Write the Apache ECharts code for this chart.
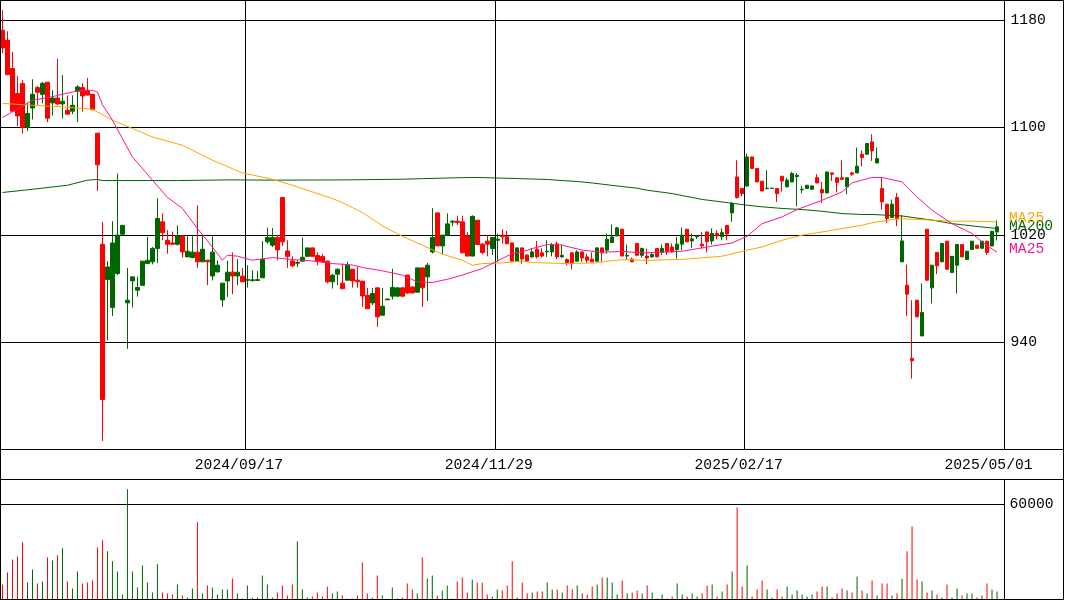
<!DOCTYPE html>
<html>
<head>
<meta charset="utf-8">
<script src="https://cdn.jsdelivr.net/npm/echarts@6.0.0/dist/echarts.min.js"></script>
<style>
  html, body { margin: 0; padding: 0; background: #ffffff; }
  #chart { width: 1065px; height: 600px; }
</style>
</head>
<body>
<div id="chart"></div>
<script>
// Daily candles, 2024/07/05 .. 2025/05/01 (Tokyo sessions)
const opens = [
  1172.5,1165.1,1144,1125.4,1132.8,1100,1114.6,1129.8,1124.8,1133.8,
  1118.4,1122,1117.6,1112.9,1112.2,1127.1,1129.8,1127.8,1124.8,1095.8,
  1013,986.7,965.9,991.2,1020.5,969.3,985.7,978.8,982.4,998.7,
  999.9,1009.8,1029.7,1016,1014,1013,1019.2,1003.6,1003.1,1007.1,
  999.9,1001.1,989.4,992.4,971.5,985.7,992.2,989.4,989.2,986.2,
  986,986,988,1014.8,1012.3,1018,1047.9,1008,1000.6,998.9,
  1000.4,1004,1010.3,1004.6,1003.8,1000.4,985,990.7,984,986.2,
  994.4,986.2,985.5,975,969.3,980.5,960.1,971.6,974.3,974.3,
  980.5,990,981.2,977.3,995.4,988.7,1007.3,1036.4,1011.8,1019.8,
  1029.5,1030.2,1029.7,1019.2,1004.2,1030.9,1013.1,1015.3,1009.8,1016,
  1019.8,1018.6,1014,1000.4,1010.3,1005,1003.6,1009.3,1006.6,1007.3,
  1007.3,1013.3,1003.6,1001.6,1006.6,1000.4,1007.3,1003.6,1001.9,1000.4,
  1010.3,1008.6,1014.3,1019.2,1024.2,1004.2,1001.9,1013.6,1004.8,1004.2,
  1003.6,1009.8,1006.9,1013.6,1011,1009.1,1013.1,1024.2,1015.5,1018.6,
  1013.1,1022.2,1015.5,1021,1018.6,1027,1036.4,1063.2,1054.6,1056.5,
  1078.1,1069.5,1060,1054.5,1054.6,1054.6,1063.7,1055.8,1059.5,1063.5,
  1053.6,1054.6,1054,1062.6,1053.8,1051.3,1066.2,1062.6,1062.6,1055.8,
  1066.2,1066.2,1080.1,1080.1,1089.3,1073.6,1054.6,1042.9,1032.9,1047.9,
  999.9,982.5,927.9,971.3,944.7,1024.2,980.5,1006.9,999.9,1015.3,
  992,997.4,1012.8,1001.7,1009.1,1012.3,1010,1015.3,1011.8,1022.2
];
const highs = [
  1187.5,1171.8,1156.4,1138.3,1135.3,1118.4,1136,1131,1134,1134,
  1127.8,1151.4,1139,1124,1124,1131.6,1133,1137,1125,1096,
  1029.7,1000.4,1030.2,1065.7,1027.5,995.4,988.7,988.9,1000.4,1018.5,
  1011,1047.3,1036,1023.5,1022.5,1027,1019.5,1019,1019,1042.1,
  1019,1001.5,1019,1001,984,1000.6,1006.9,1001.9,995.4,997.4,
  993.6,993,1015.3,1025.4,1025,1020,1048,1016,1004,1001,
  1018,1010.3,1010.5,1007,1006,1000.6,991,995,998.6,1000,
  994.6,996.6,985.7,980.5,980.5,980.7,980.5,972.4,994.8,980.7,
  981,990.2,981.4,995.5,995.6,999.1,1039.9,1036.6,1020,1036,
  1031,1034.3,1034.3,1022,1034.5,1031,1014,1020,1018.2,1021,
  1024.2,1022.9,1014.2,1010.5,1010.5,1005.2,1010.3,1015.5,1010,1016,
  1014,1015,1012.8,1002.4,1006.8,1008.5,1007.5,1006,1007,1010.5,
  1010.5,1021,1027.7,1026,1024.4,1012.8,1003,1013.8,1010.6,1009.8,
  1007,1010,1012.8,1013.8,1013.6,1018.5,1025.5,1024.4,1021,1020,
  1022.2,1022.4,1024.8,1023.4,1024.8,1027.2,1044.6,1075.6,1054.8,1080.7,
  1078.3,1069.7,1060.2,1068.2,1055,1054.8,1063.9,1062.6,1067,1066,
  1056.3,1057.2,1056.7,1065.2,1059.5,1067,1066.4,1062.8,1075.6,1062.8,
  1067,1085.1,1083,1088.3,1095,1085.1,1062.8,1043.1,1046.3,1051.3,
  1034.7,997.8,971.3,971.5,983.8,1024.4,997.6,1007.1,1013.8,1015.5,
  1004.2,1013,1013,1008,1015.5,1012.5,1015.5,1015.5,1022.9,1030.9
];
const lows = [
  1155.6,1139,1112,1101,1095.5,1097.4,1106,1117,1118,1104,
  1109,1117,1106.7,1110,1110,1104,1112,1124,1113,1052.8,
  866.4,941.5,959.6,990,1019.5,935,965.9,974,982,998,
  998,998.9,1016,1006,1013,1012,1003.1,1003.6,1002.5,995.4,
  999.9,982.5,986,992,966.3,973.8,975.8,982.5,985,980.7,
  985,986,988,1013.4,1011,1001,1011.6,995.4,996,996,
  1000,1003.5,1004,997.4,999,983.8,980,982.5,979.8,986,
  980.7,980.7,966.3,965,967.6,951.4,960,971.4,971.8,974,
  974,976,976.5,977,966.3,970.7,1006.1,1011.8,1005.6,1019.8,
  1026.6,1027.4,1006.6,1004,1004,1012.8,1005.5,1004,1005,1000,
  1013.4,1013,1000.4,1000.2,998.6,1000.2,1003,1002.4,1003,1003.6,
  1004,1002,1003,997.4,994.2,1000,1000,999,999.7,1000,
  1000,1006,1014,1019,1004.2,1001.6,999.7,1004,1003,998.2,
  1003,1003.4,1005,1005,1007,1002.4,1008.6,1014.6,1010.3,1017,
  1009.8,1006.9,1012.8,1016.7,1016,1016,1029.7,1047,1048.7,1055.8,
  1069.3,1059.3,1052.6,1054,1054.4,1044.5,1052.2,1055.6,1059.3,1041.4,
  1051,1054.4,1053.8,1058.5,1043.8,1051,1060.2,1051.6,1060.8,1050.3,
  1064,1066,1071,1080,1075.1,1073.4,1038.9,1028.9,1032.7,1026.5,
  999.7,959.6,912.9,958.7,944.5,986,968.9,990.7,999.7,994.2,
  991.8,976.3,1003.4,1001.5,1008.9,1009.8,1009.8,1004.9,1011.6,1016
];
const closes = [
  1159.4,1139.5,1112.2,1108.7,1100,1110.5,1124.8,1126.3,1133,1107,
  1122,1117.6,1119.6,1110,1116.6,1130.3,1123.6,1124.3,1113.4,1072.2,
  897.3,996.1,1014,1019.8,1027,971.3,988.7,980.8,1000.4,1001,
  1009.8,1032.2,1021.5,1013,1013,1019.3,1007.3,1007.8,1007.1,999.9,
  1009.3,999.9,1007.1,997.4,984,992.2,989.4,992.2,985,986.6,
  986.5,986.6,1001.6,1018,1018,1008.8,1014.8,1004,996.9,999.4,
  1003.3,1010.3,1004,1000.4,1000.2,985,989.9,994.4,979.8,997.4,
  985.7,985,974.5,965,976.3,958.9,966.8,972.2,980.8,980.5,
  974.3,976.7,976.7,995.4,980.5,997.4,1018,1011.8,1019.8,1028.2,
  1030.2,1029.2,1006.6,1004.2,1033.8,1012.8,1006.9,1013.1,1018,1016.8,
  1018.6,1013.4,1000.4,1010.3,1002,1000.4,1007.3,1003.6,1004.2,1007.8,
  1012.8,1003.6,1004.8,999.4,999.2,1007.3,1002.8,1001.1,999.9,1010.3,
  1006.6,1016.8,1018.5,1025.2,1004.2,1004.8,999.9,1004.8,1009.8,1002.8,
  1005.4,1003.6,1009.8,1007.3,1007.3,1013.1,1019.8,1014.8,1017,1019.2,
  1011.8,1014.8,1021,1019.2,1021.7,1020.7,1043.4,1047.9,1050.8,1078.1,
  1069.5,1059.5,1052.8,1054.8,1054.8,1050.8,1060.2,1060.8,1065.7,1064.5,
  1054,1057,1056.5,1058.7,1051.3,1066.9,1065.2,1059,1061.4,1062.6,
  1065.2,1071.2,1077.6,1088.1,1082.6,1076.9,1044.6,1032.2,1042.9,1032.2,
  1015.5,975.8,926.1,958.9,962.1,986.2,997.4,996.9,1013.6,994.4,
  1004,1012.8,1003.6,1007.8,1015.3,1010,1015.3,1006.9,1022.7,1026
];
const volumes = [
  9500,17100,25300,27200,36100,10800,19000,10100,11400,26600,
  24700,27900,32300,11400,7000,17700,10100,10800,12000,32900,
  37400,30400,24100,17700,3200,69700,17700,7600,21500,10800,
  4400,22200,4400,3800,3200,9500,2500,1300,7000,48800,
  3800,8900,7600,3200,6300,6300,13300,3800,600,8900,
  1300,1300,15200,9500,1300,4400,8900,2500,9500,36700,
  6300,1300,1900,4400,1900,8200,3800,5100,2500,600,
  600,2500,23400,3800,1300,15200,2500,300,7600,600,
  1300,10100,6300,3800,26600,13300,15200,2500,5700,8900,
  600,11400,13900,4400,12700,10800,10800,3200,1900,6300,
  5700,8900,24100,1300,10800,3800,4400,5100,5100,10800,
  6300,6300,4400,8900,6300,8900,3800,3200,8200,9500,
  13900,13900,10800,3200,12000,3800,4400,5700,3800,8900,
  4400,600,3200,600,1900,10100,3200,1900,3800,1900,
  3800,8900,9500,1900,5100,9500,17700,58300,8200,21500,
  1900,6300,12000,6300,1300,6300,1900,8200,3200,5700,
  3200,1900,3200,5100,8200,8200,1300,3800,7000,5700,
  4400,14600,5700,3800,12000,2500,10100,10100,2500,3800,
  13300,30400,46300,12700,11400,4400,5700,3200,1300,9500,
  1300,7000,2500,3800,3800,1300,2500,10100,6300,5100
];

// Moving averages as [session index, value]
const ma25Points = [
  [0,1107.5],[6,1120.4],[10,1123],[12,1124.8],[15,1127.3],[18,1127.8],[19,1126.5],[20,1117],
  [22,1105.5],[26,1078.1],[30,1060.8],[33,1048],[36,1039.7],[39,1024.7],[42,1011],[44,1001.1],
  [45,1004.9],[47,1004.1],[50,1001.1],[54,1003.1],[58,1001.6],[62,1000.6],[66,998.6],[70,997.6],
  [72,995.7],[76,993.2],[80,990],[83,985],[86,984.5],[89,986.9],[92,990],[96,994.9],
  [100,1002.4],[102,1006.1],[104,1007.3],[106,1009.8],[109,1012.8],[112,1012.3],[116,1008.6],[120,1007.1],
  [124,1007.6],[128,1006.6],[132,1007.1],[136,1007.8],[142,1011.6],[146,1014],[149,1019],[152,1028.4],
  [156,1033.4],[159,1038.9],[164,1045.8],[168,1052],[170,1058.8],[172,1060.8],[174,1062.8],[176,1062.8],
  [180,1059.5],[183,1048.3],[186,1038.4],[190,1028.4],[194,1021],[196,1014.8],[199,1007]
];
const ma75Points = [
  [0,1118],[6,1116.6],[12,1115.4],[18,1113.7],[19,1111.7],[22,1105.5],[26,1099.3],[30,1093],
  [36,1086.8],[38,1083.1],[42,1075.7],[48,1066.2],[54,1061.5],[58,1057],[62,1052],[66,1047.1],
  [68,1044.1],[70,1040.4],[72,1036.7],[76,1026.7],[80,1019],[84,1012.3],[88,1005.6],[92,1001.1],
  [94,997.4],[96,998.6],[100,999.1],[104,1000.4],[106,999.4],[113,998.6],[119,999.1],[121,1000.4],
  [123,1001.1],[125,1001.6],[129,1000.9],[134,1001.6],[136,1001.7],[144,1004.1],[149,1008.6],[152,1011],
  [156,1016],[160,1019.8],[164,1022.2],[168,1024.7],[172,1027.2],[174,1029],[178,1031.5],[180,1032],
  [186,1031],[190,1030.2],[194,1030.2],[199,1029.7]
];
const ma200Points = [
  [0,1051.6],[6,1054],[13,1057],[17,1060.8],[19,1061.3],[20,1060.5],[35,1060.5],[45,1061],
  [55,1060.8],[69,1061],[80,1061.5],[90,1062.5],[95,1062.8],[103,1062],[109,1061.3],[112,1060.5],
  [115,1059.8],[118,1058.7],[120,1057.8],[124,1056],[127,1054.8],[129,1053.3],[132,1051.8],[134,1050.8],
  [136,1049.3],[138,1047.9],[140,1046.4],[143,1045],[149,1042.1],[152,1040.9],[156,1039.7],[160,1038.9],
  [164,1037.6],[168,1035.9],[172,1035.2],[174,1035.2],[180,1034.1],[186,1031],[190,1028.4],[194,1026.7],
  [199,1024.7]
];

const dateTicks = ['2024/09/17', '2024/11/29', '2025/02/17', '2025/05/01'];
const dateGridLines = ['2024/09/17', '2024/11/29', '2025/02/17'];
const priceTicks = [940, 1020, 1100, 1180];
const volumeTicks = [60000];

// Exchange closures in the period
const marketHolidays = [
  '2024-07-15','2024-08-12','2024-09-16','2024-09-23','2024-10-14','2024-11-04',
  '2024-12-31','2025-01-01','2025-01-02','2025-01-03','2025-01-13','2025-02-11',
  '2025-02-24','2025-03-20','2025-04-29'
];

// Session dates, plus one open slot to the right of the last candle
function buildSessions(count) {
  const out = [];
  const d = new Date(Date.UTC(2024, 6, 5));
  while (out.length < count) {
    const wd = d.getUTCDay();
    const iso = d.toISOString().slice(0, 10);
    if (wd !== 0 && wd !== 6 && marketHolidays.indexOf(iso) < 0) {
      out.push(iso.replace(/-/g, '/'));
    }
    d.setUTCDate(d.getUTCDate() + 1);
  }
  return out;
}
const sessions = buildSessions(closes.length);
const categories = sessions.concat(['']);

const UP = '#006600';
const DOWN = '#ff0000';
const FONT = "'Liberation Mono', 'DejaVu Sans Mono', monospace";
const FSIZE = 14.7;

const candleData = opens.map((o, i) => [o, closes[i], lows[i], highs[i]]);
const volumeData = volumes.map((v, i) => ({
  value: v,
  itemStyle: { color: closes[i] >= opens[i] ? UP : DOWN }
}));

function maSeries(name, points, color, labelOffset) {
  return {
    name: name,
    type: 'line',
    xAxisIndex: 0,
    yAxisIndex: 0,
    data: points,
    symbol: 'none',
    smooth: false,
    lineStyle: { color: color, width: 1 },
    itemStyle: { color: color },
    silent: true,
    z: 3,
    endLabel: {
      show: true,
      formatter: name,
      color: color,
      fontFamily: FONT,
      fontSize: FSIZE,
      distance: 12,
      offset: [0, labelOffset]
    }
  };
}

const chart = echarts.init(document.getElementById('chart'), null, { renderer: 'canvas' });

chart.setOption({
  animation: false,
  backgroundColor: '#ffffff',
  textStyle: { fontFamily: FONT },
  grid: [
    { left: 0, top: 0, width: 1004.5, height: 449.5, show: false },
    { left: 0, top: 479.5, width: 1004.5, height: 120, show: false }
  ],
  xAxis: [
    {
      type: 'category',
      gridIndex: 0,
      data: categories,
      boundaryGap: true,
      axisLine: { show: false },
      axisTick: { show: false },
      axisLabel: {
        show: true,
        interval: (idx) => dateTicks.indexOf(categories[idx]) >= 0,
        color: '#000',
        fontFamily: FONT,
        fontSize: FSIZE,
        margin: 16,
        verticalAlign: 'middle',
        padding: [0, 17, 0, 0]
      },
      splitLine: {
        show: true,
        interval: (idx) => dateGridLines.indexOf(categories[idx]) >= 0,
        lineStyle: { color: '#000', width: 1 }
      }
    },
    {
      type: 'category',
      gridIndex: 1,
      data: categories,
      boundaryGap: true,
      axisLine: { show: false },
      axisTick: { show: false },
      axisLabel: { show: false },
      splitLine: { show: false }
    }
  ],
  yAxis: [
    {
      type: 'value',
      gridIndex: 0,
      position: 'right',
      min: 860,
      max: 1195.1,
      interval: 80,
      axisLine: { show: false },
      axisTick: { show: false },
      axisLabel: {
        color: '#000',
        fontFamily: FONT,
        fontSize: FSIZE,
        margin: 6,
        formatter: (v) => (priceTicks.indexOf(Math.round(v)) >= 0 && Math.abs(v - Math.round(v)) < 1e-6 ? String(Math.round(v)) : '')
      },
      splitLine: { show: true, lineStyle: { color: '#000', width: 1 } }
    },
    {
      type: 'value',
      gridIndex: 1,
      position: 'right',
      min: 0,
      max: 75789,
      interval: 60000,
      axisLine: { show: false },
      axisTick: { show: false },
      axisLabel: {
        color: '#000',
        fontFamily: FONT,
        fontSize: FSIZE,
        margin: 5,
        formatter: (v) => (volumeTicks.indexOf(v) >= 0 ? String(v) : '')
      },
      splitLine: { show: true, lineStyle: { color: '#000', width: 1 } }
    }
  ],
  series: [
    {
      name: 'price',
      type: 'candlestick',
      xAxisIndex: 0,
      yAxisIndex: 0,
      data: candleData,
      barWidth: 4,
      silent: true,
      z: 2,
      itemStyle: {
        color: UP,
        color0: DOWN,
        borderColor: UP,
        borderColor0: DOWN,
        borderWidth: 1
      }
    },
    maSeries('MA200', ma200Points, '#006400', -2),
    maSeries('MA25', ma75Points, '#ffa500', -4),
    maSeries('MA25', ma25Points, '#ff1493', -3),
    {
      name: 'volume',
      type: 'bar',
      xAxisIndex: 1,
      yAxisIndex: 1,
      data: volumeData,
      barWidth: 1,
      silent: true
    }
  ],
  graphic: [
    {
      type: 'rect', silent: true, z: 100,
      shape: { x: 0.5, y: 0.5, width: 1063, height: 599 },
      style: { fill: null, stroke: '#000', lineWidth: 1 }
    },
    {
      type: 'line', silent: true, z: 100,
      shape: { x1: 0, y1: 449.5, x2: 1064, y2: 449.5 },
      style: { stroke: '#000', lineWidth: 1 }
    },
    {
      type: 'line', silent: true, z: 100,
      shape: { x1: 0, y1: 479.5, x2: 1064, y2: 479.5 },
      style: { stroke: '#000', lineWidth: 1 }
    },
    {
      type: 'line', silent: true, z: 100,
      shape: { x1: 1004.5, y1: 0, x2: 1004.5, y2: 449.5 },
      style: { stroke: '#000', lineWidth: 1 }
    },
    {
      type: 'line', silent: true, z: 100,
      shape: { x1: 1004.5, y1: 479.5, x2: 1004.5, y2: 600 },
      style: { stroke: '#000', lineWidth: 1 }
    }
  ]
});
</script>
</body>
</html>
